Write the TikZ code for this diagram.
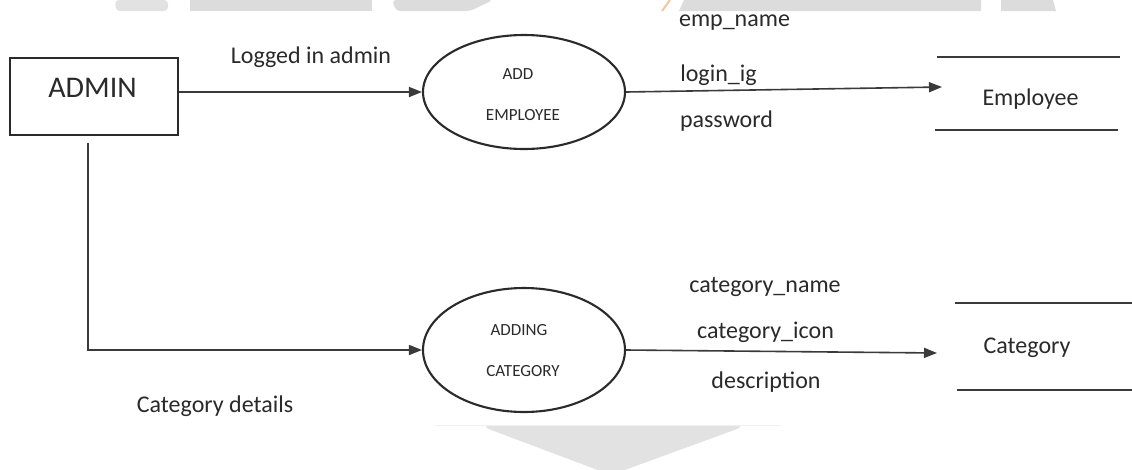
\documentclass[tikz,border=0pt]{standalone}
\usepackage{fontspec}
\setmainfont{Carlito}
\usetikzlibrary{arrows.meta,shapes.geometric}
\definecolor{ink}{HTML}{2A2A2A}
\definecolor{wire}{HTML}{3A3A3A}
\definecolor{wm}{HTML}{DCDCDC}
\definecolor{wmlight}{HTML}{E2E2E2}
\definecolor{wmo}{HTML}{F6C3A3}
\begin{document}
\begin{tikzpicture}[x=1pt,y=-1pt,
  wire/.style={draw=wire, line width=1.6pt},
  flow/.style={wire, -{Triangle[length=13pt,width=10pt]}},
  proc/.style={ellipse, draw=ink, line width=2.1pt, inner sep=0pt},
  entity/.style={rectangle, draw=ink, line width=1.9pt, inner sep=0pt},
  storeline/.style={draw=wire, line width=1.6pt},
  lbl/.style={text=ink, font=\fontsize{24}{28}\selectfont, anchor=base, inner sep=0pt},
  big/.style={text=ink, font=\fontsize{30}{34}\selectfont, anchor=base, inner sep=0pt},
  small/.style={text=ink, font=\fontsize{17}{20}\selectfont, anchor=base, inner sep=0pt},
  wmshape/.style={fill=wm, draw=none}
]
\useasboundingbox (0,0) rectangle (1132,469);
\fill[white] (0,0) rectangle (1132,469);

% watermark fragments
\fill[wmlight, rounded corners=4pt] (115,0) -- (168,0) -- (168,11) -- (116,11) -- cycle;
\fill[wmshape] (190,0) rectangle (372,11);
\fill[wmshape, rounded corners=4pt] (392,0) -- (493,0) -- (470,11) -- (396,11) -- cycle;
\draw[wmo, line width=2pt] (670,0) -- (662,11);
\fill[wmshape] (684,0) -- (981,0) -- (981,11) -- (679,11) -- cycle;
\fill[wmshape] (1001,0) -- (1053,0) -- (1056,11) -- (1001,11) -- cycle;
\fill[wmlight, rounded corners=14pt] (478,425) -- (748,425) -- (611,475) -- cycle;
\draw[gray!12, line width=0.8pt] (435,425) -- (780,425);

% nodes
\node[entity, minimum width=168pt, minimum height=77pt] (admin) at (94,96.5) {};
\node[big] (adminT) at (92.5,97) {ADMIN};

\node[proc, minimum width=202pt, minimum height=114pt] (empE) at (524,92) {};
\node[small] (empT1) at (518,79) {ADD};
\node[small] (empT2) at (523,120) {EMPLOYEE};

\node[proc, minimum width=202pt, minimum height=124pt] (catE) at (524,350) {};
\node[small] (catT1) at (519,335) {ADDING};
\node[small] (catT2) at (523,376) {CATEGORY};

\node[lbl] (empStore) at (1030.5,105) {Employee};
\node[lbl] (catStore) at (1027,353) {Category};
\coordinate (empIn) at (942,87);
\coordinate (catIn) at (937,353);

% data stores
\draw[storeline] (937,57) -- (1120,57);
\draw[storeline] (935,130) -- (1118,130);
\draw[storeline] (955,303) -- (1132,303);
\draw[storeline] (957,390) -- (1132,390);

% flows
\draw[flow] (admin.east |- empE.west) -- (empE.west);
\draw[flow] (empE.east) -- (empIn);
\draw[flow] ([shift={(-6,7)}]admin.south) |- (catE.west);
\draw[flow] (catE.east) -- (catIn);

% labels
\node[lbl] (l1) at (311,63) {Logged in admin};
\node[lbl] (l2) at (734.5,26) {emp\_name};
\node[lbl] (l3) at (718.5,81) {login\_ig};
\node[lbl] (l4) at (726.5,127) {password};
\node[lbl] (l5) at (765,292) {category\_name};
\node[lbl] (l6) at (765.5,338) {category\_icon};
\node[lbl] (l7) at (766,388) {description};
\node[lbl] (l8) at (215,412) {Category details};
\end{tikzpicture}
\end{document}
